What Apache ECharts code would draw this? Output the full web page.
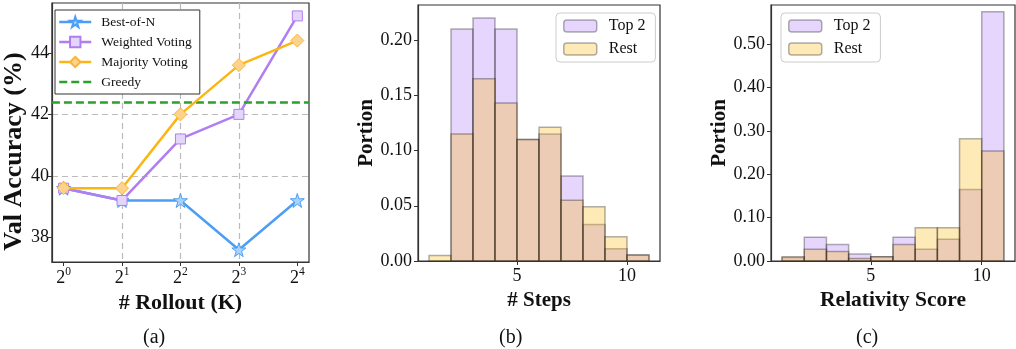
<!DOCTYPE html>
<html>
<head>
<meta charset="utf-8">
<title>Rollout / Steps / Relativity</title>
<script src="https://cdn.jsdelivr.net/npm/echarts@6/dist/echarts.min.js"></script>
<style>
html, body { margin: 0; padding: 0; background: #fff; }
#main { width: 1016px; height: 349px; }
</style>
</head>
<body>
<div id="main"></div>
<script>
// (a) val accuracy vs number of rollouts
var rolloutK = [1, 2, 4, 8, 16];
var bestOfN = [39.6, 39.2, 39.2, 37.6, 39.2];
var weightedVoting = [39.6, 39.2, 41.2, 42.0, 45.2];
var majorityVoting = [39.6, 39.6, 42.0, 43.6, 44.4];
var greedy = 42.4;
var accTicks = [38, 40, 42, 44];

// (b) # steps histogram, bins [1,2) ... [10,11]
var stepEdges = [1, 2, 3, 4, 5, 6, 7, 8, 9, 10, 11];
var stepsTop2 = [0, 0.210, 0.220, 0.210, 0.110, 0.115, 0.077, 0.033, 0.011, 0.0055];
var stepsRest = [0.005, 0.115, 0.165, 0.143, 0.110, 0.121, 0.055, 0.049, 0.022, 0.0055];
var stepsYTicks = [0, 0.05, 0.10, 0.15, 0.20];

// (c) relativity score histogram
var scoreEdges = [1, 2, 3, 4, 5, 6, 7, 8, 9, 10, 11];
var scoreTop2 = [0.008, 0.055, 0.038, 0.016, 0.010, 0.055, 0.027, 0.050, 0.165, 0.575];
var scoreRest = [0.010, 0.027, 0.022, 0.006, 0.010, 0.038, 0.077, 0.077, 0.282, 0.254];
var scoreYTicks = [0, 0.10, 0.20, 0.30, 0.40, 0.50];
var histXTicks = [5, 10];

var serif = "'Liberation Serif', 'Times New Roman', serif";
var frame = '#333';
var purple = 'rgb(172,115,248)';
var yellow = 'rgb(252,185,18)';
var star = 'path://M50,2 L61,36 L97,36 L68,57 L79,92 L50,71 L21,92 L32,57 L3,36 L39,36 Z';

var myChart = echarts.init(document.getElementById('main'));

function pts(vals) {
    return rolloutK.map(function (k, i) { return [Math.log2(k), vals[i]]; });
}
function bins(edges, vals) {
    var out = [];
    for (var i = 0; i < vals.length; i++) {
        if (vals[i] > 0) out.push([edges[i], vals[i], edges[i + 1]]);
    }
    return out;
}
function histItem(params, api) {
    var a = api.coord([api.value(0), api.value(1)]);
    var b = api.coord([api.value(2), 0]);
    return {
        type: 'rect',
        shape: { x: a[0], y: a[1], width: b[0] - a[0], height: b[1] - a[1] },
        style: api.style()
    };
}
function axis(extra) {
    var base = {
        axisLine: { show: true, onZero: false, lineStyle: { color: frame, width: 1.2 } },
        axisTick: { show: true, inside: false, length: 4, lineStyle: { color: frame } },
        axisLabel: { color: '#111', fontFamily: serif, fontSize: 18, margin: 6 },
        splitLine: { show: false },
        nameLocation: 'middle',
        nameTextStyle: { fontFamily: serif, fontWeight: 'bold', fontSize: 21, color: '#111' }
    };
    for (var k in extra) {
        if (typeof extra[k] === 'object' && base[k] && !Array.isArray(extra[k])) {
            base[k] = Object.assign({}, base[k], extra[k]);
        } else {
            base[k] = extra[k];
        }
    }
    return base;
}
function histSeries(name, color, xi, data) {
    return {
        name: name, type: 'custom', xAxisIndex: xi, yAxisIndex: xi,
        renderItem: histItem, clip: true,
        encode: { x: [0, 2], y: 1 },
        itemStyle: { color: color, opacity: 0.3, borderColor: '#000', borderWidth: 1.5 },
        data: data
    };
}
var dashGrid = { show: true, showMinLine: false, showMaxLine: false,
    lineStyle: { color: '#bbb', width: 1.2, type: [6, 4] } };
var boldName = function (size) {
    return { fontFamily: serif, fontWeight: 'bold', fontSize: size, color: '#111' };
};

var option = {
    backgroundColor: '#fff',
    animation: false,
    grid: [
        { left: 49, top: 3, width: 260, height: 259, show: true, borderColor: frame, borderWidth: 1.2 },
        { left: 418, top: 5, width: 242, height: 256, show: true, borderColor: frame, borderWidth: 1.2 },
        { left: 771, top: 5, width: 244, height: 256, show: true, borderColor: frame, borderWidth: 1.2 }
    ],
    xAxis: [
        axis({ gridIndex: 0, type: 'value', min: -0.2, max: 4.2, name: '# Rollout (K)', nameGap: 19,
            nameTextStyle: boldName(22),
            axisTick: { customValues: [0, 1, 2, 3, 4] },
            axisLabel: { customValues: [0, 1, 2, 3, 4], margin: 4,
                formatter: function (v) { return '{b|2}{s|' + Math.round(v) + '}'; },
                rich: { b: { fontFamily: serif, fontSize: 18, color: '#111', padding: [3, 0, 0, 0] },
                        s: { fontFamily: serif, fontSize: 11.5, color: '#111', verticalAlign: 'top' } } },
            splitLine: dashGrid }),
        axis({ gridIndex: 1, type: 'value', min: 0.5, max: 11.5, name: '# Steps', nameGap: 17,
            axisTick: { customValues: histXTicks }, axisLabel: { customValues: histXTicks } }),
        axis({ gridIndex: 2, type: 'value', min: 0.5, max: 11.5, name: 'Relativity Score', nameGap: 17,
            nameTextStyle: boldName(21.5),
            axisTick: { customValues: histXTicks }, axisLabel: { customValues: histXTicks } })
    ],
    yAxis: [
        axis({ gridIndex: 0, type: 'value', min: 37.2, max: 45.62, name: 'Val Accuracy (%)', nameGap: 15,
            nameTextStyle: Object.assign(boldName(26), { padding: [0, 38, 0, 0] }),
            axisTick: { customValues: accTicks }, axisLabel: { customValues: accTicks, margin: 3 },
            splitLine: dashGrid }),
        axis({ gridIndex: 1, type: 'value', min: 0, max: 0.2317, name: 'Portion', nameGap: 29,
            axisTick: { customValues: stepsYTicks },
            axisLabel: { customValues: stepsYTicks, formatter: function (v) { return v.toFixed(2); } } }),
        axis({ gridIndex: 2, type: 'value', min: 0, max: 0.5907, name: 'Portion', nameGap: 28,
            axisTick: { customValues: scoreYTicks },
            axisLabel: { customValues: scoreYTicks, formatter: function (v) { return v.toFixed(2); } } })
    ],
    legend: [
        {
            data: ['Best-of-N', 'Weighted Voting', 'Majority Voting',
                { name: 'Greedy', itemStyle: { opacity: 0 } }],
            orient: 'vertical', left: 55, top: 10,
            itemWidth: 32, itemHeight: 13, itemGap: 6,
            padding: [5, 8, 5, 3],
            backgroundColor: '#fff', borderColor: frame, borderWidth: 1,
            lineStyle: { width: 2.5 },
            textStyle: { fontFamily: serif, fontSize: 13.5, color: '#111', padding: [0, 0, 0, 5] }
        },
        {
            data: [
                { name: 'Top 2', itemStyle: { color: purple, opacity: 0.3, borderColor: '#000', borderWidth: 1.5 } },
                { name: 'Rest', itemStyle: { color: yellow, opacity: 0.3, borderColor: '#000', borderWidth: 1.5 } }
            ],
            orient: 'vertical', left: 556, top: 13,
            itemWidth: 33, itemHeight: 12, itemGap: 7,
            padding: [5, 10, 5, 7],
            backgroundColor: '#fff', borderColor: '#ccc', borderWidth: 1, borderRadius: 4,
            textStyle: { fontFamily: serif, fontSize: 16, color: '#111', padding: [0, 0, 0, 7] }
        },
        {
            data: [
                { name: 'Top 2', itemStyle: { color: purple, opacity: 0.3, borderColor: '#000', borderWidth: 1.5 } },
                { name: 'Rest', itemStyle: { color: yellow, opacity: 0.3, borderColor: '#000', borderWidth: 1.5 } }
            ],
            orient: 'vertical', left: 781, top: 13,
            itemWidth: 33, itemHeight: 12, itemGap: 7,
            padding: [5, 10, 5, 7],
            backgroundColor: '#fff', borderColor: '#ccc', borderWidth: 1, borderRadius: 4,
            textStyle: { fontFamily: serif, fontSize: 16, color: '#111', padding: [0, 0, 0, 7] }
        }
    ],
    graphic: [
        { type: 'text', left: 143, top: 328, style: { text: '(a)', font: '20px ' + serif, fill: '#111' } },
        { type: 'text', left: 499, top: 328, style: { text: '(b)', font: '20px ' + serif, fill: '#111' } },
        { type: 'text', left: 856, top: 328, style: { text: '(c)', font: '20px ' + serif, fill: '#111' } }
    ],
    series: [
        {
            name: 'Greedy', type: 'line', xAxisIndex: 0, yAxisIndex: 0, data: [],
            symbol: 'none',
            lineStyle: { color: '#2ca02c', width: 2.5, type: [8, 4] },
            itemStyle: { color: '#2ca02c' },
            markLine: { silent: true, symbol: 'none', label: { show: false },
                lineStyle: { color: '#2ca02c', width: 2.5, type: [8, 4] },
                data: [{ yAxis: greedy }] },
            z: 2
        },
        {
            name: 'Best-of-N', type: 'line', xAxisIndex: 0, yAxisIndex: 0, data: pts(bestOfN),
            symbol: star, symbolSize: 14,
            lineStyle: { color: '#4c9ef5', width: 2.5 },
            itemStyle: { color: '#a9d3fb', borderColor: '#4c9ef5', borderWidth: 1 },
            z: 3
        },
        {
            name: 'Weighted Voting', type: 'line', xAxisIndex: 0, yAxisIndex: 0, data: pts(weightedVoting),
            symbol: 'rect', symbolSize: 10,
            lineStyle: { color: '#b07ef0', width: 2.5 },
            itemStyle: { color: '#e4d6fb', borderColor: '#b07ef0', borderWidth: 1 },
            z: 4
        },
        {
            name: 'Majority Voting', type: 'line', xAxisIndex: 0, yAxisIndex: 0, data: pts(majorityVoting),
            symbol: 'diamond', symbolSize: 13,
            lineStyle: { color: '#fbb614', width: 2.5 },
            itemStyle: { color: '#fdd38c', borderColor: '#f9b43a', borderWidth: 1 },
            z: 5
        },
        histSeries('Top 2', purple, 1, bins(stepEdges, stepsTop2)),
        histSeries('Rest', yellow, 1, bins(stepEdges, stepsRest)),
        histSeries('Top 2', purple, 2, bins(scoreEdges, scoreTop2)),
        histSeries('Rest', yellow, 2, bins(scoreEdges, scoreRest))
    ]
};

myChart.setOption(option);
window.addEventListener('resize', function () {
    myChart.resize();
});
</script>
</body>
</html>
